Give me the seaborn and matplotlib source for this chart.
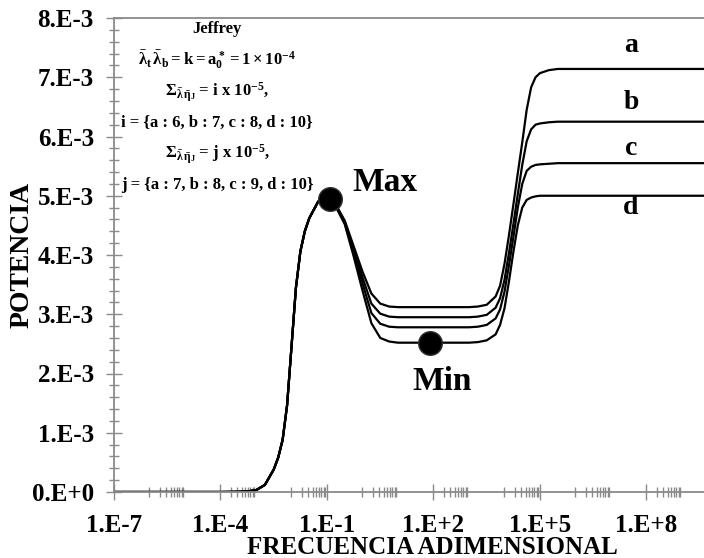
import numpy as np
import pandas as pd
import seaborn as sns
import matplotlib
matplotlib.use('Agg')
import matplotlib.pyplot as plt
from matplotlib.ticker import FixedLocator, FixedFormatter, MultipleLocator, NullFormatter


# curve labels
curves = ['a', 'b', 'c', 'd']

# shared rising part (log10 of frequency, power in 1e-3 units)
rise_exp = [-7.0, -4.0, -3.5, -3.25, -3.0, -2.75, -2.5, -2.375, -2.25, -2.125,
            -2.0, -1.875, -1.75, -1.625, -1.5, -1.25, -1.125, -1.0]
rise_val = [0.0, 0.0, 0.003, 0.01, 0.03, 0.12, 0.38, 0.58, 0.88, 1.46,
            2.45, 3.45, 4.06, 4.40, 4.62, 4.90, 4.96, 4.98]

# falling part after the maximum
fall_exp = [-0.75, -0.5, -0.25, 0.0, 0.25, 0.5, 0.75, 1.0]
fall_a = [4.85, 4.58, 4.15, 3.72, 3.35, 3.18, 3.13, 3.12]
fall_b = [4.84, 4.56, 4.10, 3.62, 3.18, 3.01, 2.96, 2.95]
fall_c = [4.83, 4.54, 4.05, 3.52, 3.02, 2.84, 2.79, 2.78]
fall_d = [4.81, 4.52, 3.98, 3.40, 2.85, 2.60, 2.54, 2.52]

# second step up to the plateau
step_exp = [3.0, 3.25, 3.5, 3.75, 3.875, 4.0, 4.125, 4.25, 4.375, 4.5, 4.625,
            4.75, 4.875, 5.0, 5.25, 5.5, 10.0]
step_a = [3.12, 3.13, 3.16, 3.30, 3.48, 3.85, 4.33, 4.85, 5.38, 5.90, 6.45,
          6.83, 7.00, 7.07, 7.12, 7.14, 7.14]
step_b = [2.95, 2.96, 2.99, 3.11, 3.27, 3.58, 4.03, 4.52, 5.03, 5.52, 5.92,
          6.12, 6.20, 6.22, 6.24, 6.25, 6.25]
step_c = [2.78, 2.79, 2.82, 2.93, 3.08, 3.38, 3.82, 4.30, 4.80, 5.20, 5.42,
          5.49, 5.52, 5.53, 5.54, 5.55, 5.55]
step_d = [2.52, 2.53, 2.56, 2.66, 2.82, 3.10, 3.55, 4.05, 4.50, 4.80, 4.93,
          4.97, 4.99, 5.00, 5.00, 5.00, 5.00]

# max / min markers
mark_exp = [-0.92, 1.90]
mark_val = [4.95, 2.52]

x_ticks_exp = [-7, -4, -1, 2, 5, 8]
x_tick_labels = ['1.E-7', '1.E-4', '1.E-1', '1.E+2', '1.E+5', '1.E+8']
y_tick_labels = ['0.E+0', '1.E-3', '2.E-3', '3.E-3', '4.E-3',
                 '5.E-3', '6.E-3', '7.E-3', '8.E-3']

falls = {'a': fall_a, 'b': fall_b, 'c': fall_c, 'd': fall_d}
steps = {'a': step_a, 'b': step_b, 'c': step_c, 'd': step_d}

rows = []
for c in curves:
    ex = rise_exp + fall_exp + step_exp
    va = rise_val + falls[c] + steps[c]
    for e, v in zip(ex, va):
        rows.append({'curve': c, 'freq': 10.0 ** e, 'power': v * 1e-3})
df = pd.DataFrame(rows)
marks = pd.DataFrame({'freq': 10.0 ** np.array(mark_exp),
                      'power': np.array(mark_val) * 1e-3})

sns.set_theme(style='white')
plt.rcParams['font.family'] = ['Liberation Serif', 'DejaVu Serif']
plt.rcParams['font.weight'] = 'bold'
plt.rcParams['text.color'] = 'black'
plt.rcParams['axes.labelcolor'] = 'black'
plt.rcParams['xtick.labelcolor'] = 'black'
plt.rcParams['ytick.labelcolor'] = 'black'
plt.rcParams['mathtext.fontset'] = 'custom'
plt.rcParams['mathtext.rm'] = 'Liberation Serif:bold'
plt.rcParams['mathtext.it'] = 'Liberation Serif:bold'
plt.rcParams['mathtext.bf'] = 'Liberation Serif:bold'

fig = plt.figure(figsize=(7.04, 5.58), dpi=100)
ax = fig.add_axes([114 / 704, 66 / 558, 590 / 704, 474 / 558])

sns.lineplot(data=df, x='freq', y='power', hue='curve', units='curve',
             estimator=None, palette=['black'] * 4, linewidth=1.6,
             legend=False, ax=ax)
sns.scatterplot(data=marks, x='freq', y='power', s=290, color='black',
                edgecolor='#333333', linewidth=1, zorder=5, ax=ax)

ax.set_xscale('log')
ax.set_xlim(1e-7, 10 ** 9.62)
ax.set_ylim(0, 8e-3)

gray = '#8a8a8a'
for side in ['left', 'bottom', 'top']:
    ax.spines[side].set_color(gray)
    ax.spines[side].set_linewidth(1.3)
ax.spines['right'].set_visible(False)

ax.xaxis.set_major_locator(FixedLocator([10.0 ** e for e in x_ticks_exp]))
ax.xaxis.set_major_formatter(FixedFormatter(x_tick_labels))
minor_x = [k * 10.0 ** e for e in range(-6, 10, 2) for k in range(1, 10)]
ax.xaxis.set_minor_locator(FixedLocator(minor_x))
ax.xaxis.set_minor_formatter(NullFormatter())
ax.yaxis.set_major_locator(FixedLocator([i * 1e-3 for i in range(9)]))
ax.yaxis.set_major_formatter(FixedFormatter(y_tick_labels))
ax.yaxis.set_minor_locator(MultipleLocator(0.2e-3))
ax.yaxis.set_minor_formatter(NullFormatter())

ax.tick_params(which='major', direction='inout', length=11, width=1,
               color=gray, labelsize=18)
ax.tick_params(which='minor', direction='inout', length=7, width=1,
               color=gray)
ax.tick_params(axis='x', which='major', pad=10)
ax.tick_params(axis='y', which='major', pad=9)
ax.tick_params(axis='x', which='both', bottom=True)
ax.tick_params(axis='y', which='both', left=True)

ax.set_xlabel('FRECUENCIA ADIMENSIONAL', fontsize=18, fontweight='bold',
              va='center')
ax.set_ylabel('POTENCIA', fontsize=20, fontweight='bold', va='center')
ax.xaxis.set_label_coords((432 - 114) / 590, -(547 - 492) / 474)
ax.yaxis.set_label_coords(-(114 - 22) / 590, (492 - 255) / 474)

fig.text(385 / 704, 1 - 183 / 558, 'Max', fontsize=24, fontweight='bold',
         ha='center', va='center')
fig.text(442 / 704, 1 - 381 / 558, 'Min', fontsize=24, fontweight='bold',
         ha='center', va='center')

for c, yy in zip(curves, [45, 102, 148, 207]):
    fig.text(631 / 704, 1 - yy / 558, c, fontsize=20, fontweight='bold',
             ha='center', va='center')

info = [
    (29, 'Jeffrey'),
    (60, r'$\bar{\lambda}_t\,\bar{\lambda}_b = k = a_0^* = 1\times10^{-4}$'),
    (92, r'$\Sigma_{\bar{\lambda}\,\bar{\eta}_J}$ = i x 10$^{-5}$,'),
    (123, 'i = {a : 6, b : 7, c : 8, d : 10}'),
    (154, r'$\Sigma_{\bar{\lambda}\,\bar{\eta}_J}$ = j x 10$^{-5}$,'),
    (185, 'j = {a : 7, b : 8, c : 9, d : 10}'),
]
for yy, txt in info:
    fig.text(217 / 704, 1 - yy / 558, txt, fontsize=12, fontweight='bold',
             ha='center', va='center')

fig.savefig('out.png', dpi=100)
